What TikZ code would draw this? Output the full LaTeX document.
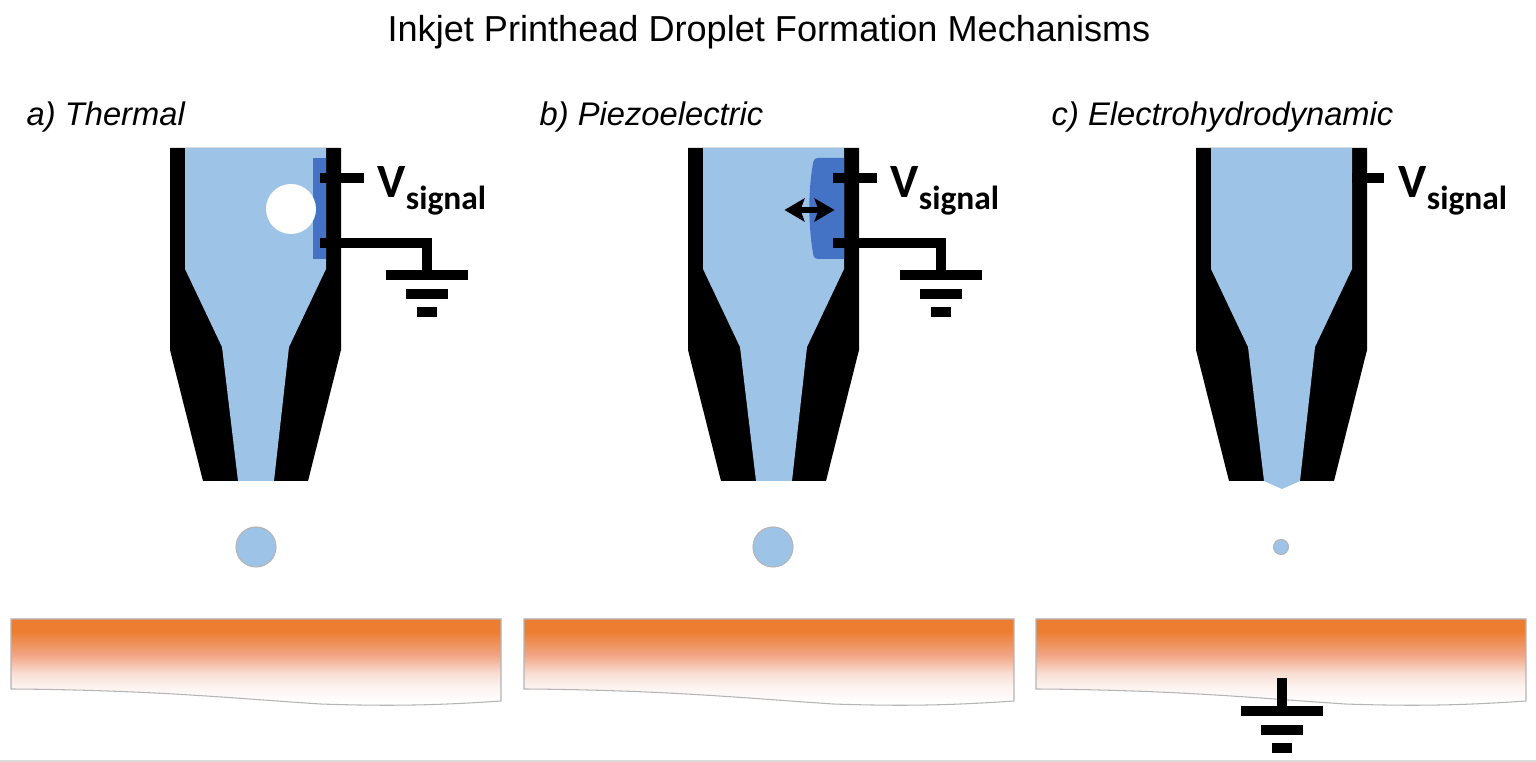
\documentclass[tikz,border=0pt]{standalone}
\usepackage{fontspec}
\setmainfont{Liberation Sans}
\newfontfamily\signalfont{Carlito}
\usetikzlibrary{arrows,arrows.meta,calc,positioning}
\definecolor{inkblue}{HTML}{9DC3E6}
\definecolor{actblue}{HTML}{4472C4}
\definecolor{subsorange}{HTML}{ED7D31}
\definecolor{rimgray}{HTML}{B4B4B4}
\definecolor{fadea}{RGB}{241,166,134}
\definecolor{fadeb}{RGB}{248,221,210}
\definecolor{fadec}{RGB}{252,243,240}
\pgfdeclareverticalshading{subsfade}{100bp}{color(0bp)=(white); color(27bp)=(white); color(36bp)=(fadec); color(44bp)=(fadeb); color(54bp)=(fadea); color(68bp)=(subsorange); color(100bp)=(subsorange)}
% outer wall and ink channel of one nozzle, #1 is the x shift, #2 the ink tip
\newcommand{\nozzle}[2]{
  \begin{scope}[xshift=#1*0.01cm]
    \fill[black] (170,148) -- (341,148) -- (341,350) -- (308,481) -- (203,481) -- (170,350) -- cycle;
    \fill[inkblue] (185,148) -- (326,148) -- (326,269) -- (289,347) -- (274,481) -- #2 -- (238,481) -- (222,347) -- (185,269) -- cycle;
  \end{scope}
}
% substrate with its wavy lower edge
\newcommand{\substrate}[1]{
  \begin{scope}[xshift=#1*0.01cm]
    \shade[draw=rimgray,line width=0.3pt,shading=subsfade]
      (11,619) -- (501,619) -- (501,701) .. controls (430,706) and (380,706) .. (320,704)
      .. controls (230,698) and (150,690) .. (11,689) -- cycle;
  \end{scope}
}
\newcommand{\gndbars}[3]{
  \coordinate (#1) at (#2,#3);
  \draw[wire] (#2-41,#3) -- (#2+41,#3);
  \draw[wire] (#2-21,#3+19) -- (#2+21,#3+19);
  \draw[wire] (#2-10,#3+37) -- (#2+10,#3+37);
}
\newcommand{\vsignal}{V\textsubscript{\raisebox{-0.035cm}{signal}}}

\begin{document}
\begin{tikzpicture}[x=0.01cm,y=-0.01cm]
  \tikzstyle{wire}=[line width=0.105cm,black]
  \tikzstyle{droplet}=[circle,draw=rimgray,line width=0.3pt,fill=inkblue,inner sep=0pt]
  \tikzstyle{heading}=[anchor=base west,inner sep=0pt,font=\fontsize{9.3pt}{12pt}\selectfont\itshape]
  \tikzstyle{vlabel}=[anchor=base west,inner sep=0pt,font=\signalfont\bfseries\fontsize{13.6pt}{15pt}\selectfont]
  \useasboundingbox (0,0) rectangle (1536,762);
  \draw[rimgray!50,thin] (0,761) -- (1536,761);

  \node[anchor=base,font=\fontsize{10.27pt}{12pt}\selectfont] (title) at (769,42) {Inkjet Printhead Droplet Formation Mechanisms};
  \node[heading] (heada) at (26,126) {a) Thermal};
  \node[heading] (headb) at (539,126) {b) Piezoelectric};
  \node[heading] (headc) at (1051,126) {c) Electrohydrodynamic};

  \nozzle{0}{(274,481)}
  \nozzle{518}{(274,481)}
  \nozzle{1026}{(256,489)}

  % actuators
  \fill[actblue] (313,158) rectangle (326,259);
  \fill[white] (291,209) circle (25);
  \fill[actblue] (844,158) [rounded corners=1pt] -- (814,158) .. controls (808,190) and (808,225) .. (814,259) [sharp corners] -- (844,259) -- cycle;
  \node[inner sep=0pt] (arrowl) at (782,210) {};
  \node[inner sep=0pt] (arrowr) at (837,210) {};
  \draw[{Stealth[length=0.2cm,width=0.23cm,inset=0.04cm]}-{Stealth[length=0.2cm,width=0.23cm,inset=0.04cm]},line width=0.055cm] (arrowl) -- (arrowr);

  % signal leads
  \coordinate (leada) at (320,178);
  \coordinate (enda) at (364,178);
  \coordinate (leadb) at (833,178);
  \coordinate (endb) at (877,178);
  \coordinate (leadc) at (1352,178);
  \coordinate (endc) at (1384,178);
  \draw[wire] (leada) -- (enda);
  \draw[wire] (leadb) -- (endb);
  \draw[wire] (leadc) -- (endc);

  \node[vlabel] (va) at (377,198) {\vsignal};
  \node[vlabel] (vb) at (890,198) {\vsignal};
  \node[vlabel] (vc) at (1398,198) {\vsignal};

  % grounds
  \gndbars{gnda}{427}{275}
  \gndbars{gndb}{941}{275}
  \coordinate (wirea) at (320,243);
  \coordinate (wireb) at (833,243);
  \draw[wire] (wirea) -| (gnda);
  \draw[wire] (wireb) -| (gndb);

  \node[droplet,minimum size=0.4cm] (dropa) at (256,547) {};
  \node[droplet,minimum size=0.4cm] (dropb) at (773,547) {};
  \node[droplet,minimum size=0.15cm] (dropc) at (1281,547) {};

  \substrate{0}
  \substrate{513}
  \substrate{1025}

  \gndbars{gndc}{1282}{711}
  \coordinate (stemc) at (1282,678);
  \draw[wire] (stemc) -- (gndc);
\end{tikzpicture}
\end{document}
